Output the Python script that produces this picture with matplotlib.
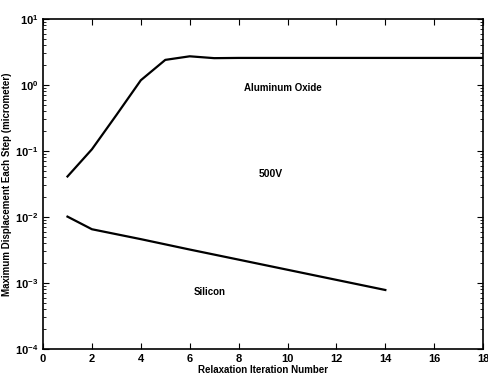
import matplotlib
matplotlib.use('Agg')
import matplotlib.pyplot as plt
import numpy as np

# Aluminum oxide curve
al_x = [1, 2, 3, 4, 5, 6, 7, 8, 10, 12, 14, 16, 18]
al_y = [0.041, 0.106, 0.35, 1.18, 2.4, 2.72, 2.55, 2.57, 2.57, 2.57, 2.57, 2.57, 2.57]

# Silicon curve
si_x = [1, 2, 4, 6, 8, 10, 12, 14]
si_y = [0.0101, 0.0065, 0.0046, 0.0032, 0.00225, 0.00158, 0.00111, 0.00078]

labels = ['Aluminum Oxide', '500V', 'Silicon']

plt.rcParams['font.family'] = ['Liberation Sans', 'DejaVu Sans']
plt.rcParams['font.weight'] = 'bold'

fig = plt.figure(figsize=(4.89, 3.80), dpi=100)
ax = fig.add_axes([0.088, 0.082, 0.9, 0.868])

ax.semilogy(al_x, al_y, color='black', lw=1.6)
ax.semilogy(si_x, si_y, color='black', lw=1.6)

ax.set_xlim(0, 18)
ax.set_ylim(1e-4, 1e1)
ax.set_xticks(np.arange(0, 19, 2))
ax.tick_params(which='both', direction='in', top=True, right=True, labelsize=8)
ax.tick_params(which='major', length=4)
ax.tick_params(which='minor', length=2)
for lbl in ax.get_xticklabels() + ax.get_yticklabels():
    lbl.set_fontweight('bold')
for s in ax.spines.values():
    s.set_linewidth(1.2)

ax.set_xlabel('Relaxation Iteration Number', fontsize=7, fontweight='bold', labelpad=1)
ax.set_ylabel('Maximum Displacement Each Step (micrometer)', fontsize=7, fontweight='bold', labelpad=2)

ax.text(9.8, 0.9, labels[0], fontsize=7, fontweight='bold', ha='center', va='center')
ax.text(9.3, 0.045, labels[1], fontsize=7.5, fontweight='bold', ha='center', va='center')
ax.text(6.8, 0.00072, labels[2], fontsize=7, fontweight='bold', ha='center', va='center')

fig.savefig('out.png', dpi=100)
